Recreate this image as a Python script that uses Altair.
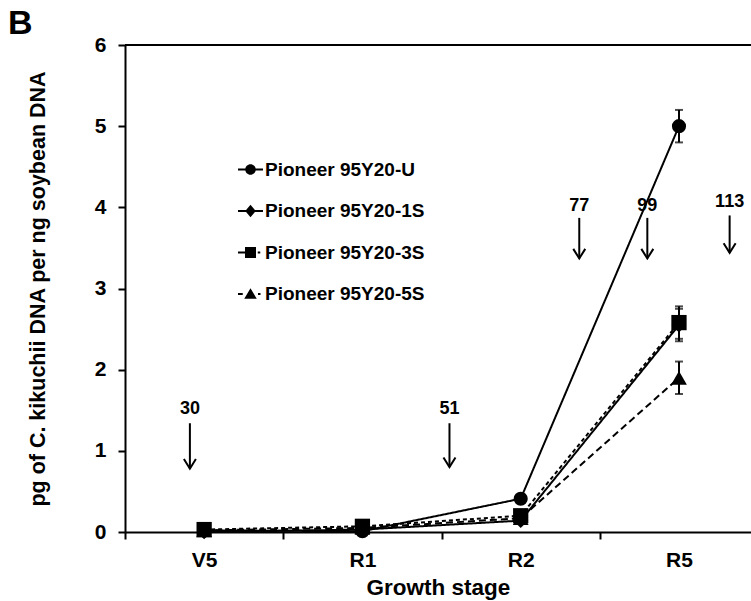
import json
import altair as alt
import pandas as pd

# ---------------- data ----------------
stages = ["V5", "R1", "R2", "R5"]
series_names = ["Pioneer 95Y20-U", "Pioneer 95Y20-1S", "Pioneer 95Y20-3S", "Pioneer 95Y20-5S"]

u_vals = [0.02, 0.01, 0.41, 5.00]
s1_vals = [0.00, 0.03, 0.14, 2.55]
s3_vals = [0.03, 0.07, 0.20, 2.58]
s5_vals = [0.02, 0.05, 0.17, 1.90]

u_err = [0.01, 0.02, 0.03, 0.20]
s1_err = [0.01, 0.02, 0.02, 0.20]
s3_err = [0.01, 0.02, 0.02, 0.20]
s5_err = [0.01, 0.02, 0.02, 0.20]

# days-after-planting annotations (arrows)
arrow_labels = ["30", "51", "77", "99", "113"]
arrow_x = [-0.09, 1.55, 2.37, 2.80, 3.32]
arrow_text_y = [1.51, 1.52, 4.02, 4.02, 4.06]
arrow_top = [1.34, 1.34, 3.87, 3.87, 3.90]
arrow_tip = [0.78, 0.80, 3.37, 3.37, 3.44]

FONT = "Liberation Sans"

# ---------------- tables ----------------
vals = [u_vals, s1_vals, s3_vals, s5_vals]
errs = [u_err, s1_err, s3_err, s5_err]
rows, err_rows, cap_rows = [], [], []
for name, v, e in zip(series_names, vals, errs):
    for i in range(len(stages)):
        rows.append({"x": i, "y": v[i], "series": name})
        err_rows.append({"x": i, "y": v[i] - e[i], "y2": v[i] + e[i], "series": name})
        cap_rows.append({"x": i, "y": v[i] - e[i], "series": name})
        cap_rows.append({"x": i, "y": v[i] + e[i], "series": name})
df = pd.DataFrame(rows)
err_df = pd.DataFrame(err_rows)
cap_df = pd.DataFrame(cap_rows)

arrows_df = pd.DataFrame({"x": arrow_x, "y": arrow_top, "y2": arrow_tip})
heads_df = pd.DataFrame({"x": arrow_x, "y": arrow_tip})
alabels_df = pd.DataFrame({"x": arrow_x, "y": arrow_text_y, "label": arrow_labels})
top_df = pd.DataFrame({"y": [6]})

# ---------------- encodings ----------------
label_expr = "datum.value % 1 === 0 ? " + json.dumps(stages) + "[datum.value] : ''"
xenc = alt.X(
    "x:Q",
    scale=alt.Scale(domain=[-0.5, 3.455], nice=False, zero=False),
    axis=alt.Axis(
        values=[-0.5, 0, 0.5, 1, 1.5, 2, 2.5, 3],
        labelExpr=label_expr,
        tickOpacity={"condition": {"test": "datum.value % 1 !== 0", "value": 1}, "value": 0},
        tickSize=7, tickWidth=2, tickColor="black",
        domainColor="black", domainWidth=2,
        labelFont=FONT, labelFontSize=21, labelFontWeight="bold", labelColor="black",
        labelPadding=10, labelOverlap=False, labelFlush=False,
        title="Growth stage", titleFont=FONT, titleFontSize=22.5, titleFontWeight="bold",
        titleColor="black", titlePadding=6, grid=False,
    ),
)
yenc = alt.Y(
    "y:Q",
    scale=alt.Scale(domain=[0, 6], nice=False, zero=True),
    axis=alt.Axis(
        values=[0, 1, 2, 3, 4, 5, 6],
        tickSize=7, tickWidth=2, tickColor="black",
        domainColor="black", domainWidth=2,
        labelFont=FONT, labelFontSize=21, labelFontWeight="bold", labelColor="black",
        labelPadding=12,
        title="pg  of C. kikuchii DNA per ng soybean DNA",
        titleFont=FONT, titleFontSize=21.5, titleFontWeight="bold", titleColor="black",
        titlePadding=45, grid=False,
    ),
)

shape_scale = alt.Scale(domain=series_names, range=["circle", "diamond", "square", "triangle-up"])
size_scale = alt.Scale(domain=series_names, range=[200, 250, 170, 210])
dash_scale = alt.Scale(domain=series_names, range=[[1, 0], [1, 0], [4, 3], [7, 4]])

# legend symbols: a short line (thin filled bar) with the marker on it
legend_paths = [
    "M-1,-0.08H1V0.08H-1ZM-0.42,0A0.42,0.42,0,1,1,0.42,0A0.42,0.42,0,1,1,-0.42,0Z",
    "M-1,-0.08H1V0.08H-1ZM0,-0.5L0.42,0L0,0.5L-0.42,0Z",
    "M-1,-0.08H-0.4V0.08H-1ZM-0.44,-0.44H0.44V0.44H-0.44ZM0.58,-0.08H0.78V0.08H0.58Z",
    "M-1,-0.08H-0.62V0.08H-1ZM0,-0.46L0.5,0.38H-0.5ZM0.6,-0.08H0.8V0.08H0.6Z",
]

# ---------------- layers ----------------
top_rule = alt.Chart(top_df).mark_rule(color="black", strokeWidth=2).encode(y=yenc)

lines = alt.Chart(df).mark_line(color="black", strokeWidth=2).encode(
    x=xenc, y=yenc,
    strokeDash=alt.StrokeDash("series:N", scale=dash_scale, legend=None),
    detail="series:N",
)

err_rules = alt.Chart(err_df).mark_rule(color="black", strokeWidth=2).encode(
    x=xenc, y=yenc, y2=alt.Y2("y2:Q")
)
err_caps = alt.Chart(cap_df).mark_tick(
    color="black", orient="horizontal", size=8, thickness=2
).encode(x=xenc, y=yenc)

points = alt.Chart(df).mark_point(filled=True, color="black", opacity=1).encode(
    x=xenc, y=yenc,
    shape=alt.Shape("series:N", scale=shape_scale, legend=None),
    size=alt.Size("series:N", scale=size_scale, legend=None),
)

legend_layer = alt.Chart(df).transform_filter("false").mark_point(
    filled=True, fill="black", stroke="black", strokeWidth=2, opacity=1
).encode(
    shape=alt.Shape(
        "series:N",
        scale=alt.Scale(domain=series_names, range=legend_paths),
        legend=alt.Legend(
            title=None, orient="none", legendX=113, legendY=112,
            symbolSize=625, symbolFillColor="black", symbolStrokeColor="black",
            symbolStrokeWidth=0, symbolOpacity=1,
            labelFont=FONT, labelFontSize=19, labelFontWeight="bold", labelColor="black",
            labelOffset=2, rowPadding=18.5, padding=0, labelLimit=400,
        ),
    )
)

arrow_rules = alt.Chart(arrows_df).mark_rule(color="black", strokeWidth=2).encode(
    x=xenc, y=yenc, y2=alt.Y2("y2:Q")
)
arrow_heads = alt.Chart(heads_df).mark_point(
    shape="M-1,-1.6L0,0L1,-1.6", filled=False, size=144, color="black",
    strokeWidth=2, opacity=1,
).encode(x=xenc, y=yenc)
arrow_text = alt.Chart(alabels_df).mark_text(
    font=FONT, fontSize=18, fontWeight="bold", color="black", baseline="middle"
).encode(x=xenc, y=yenc, text="label:N")

chart = (
    alt.layer(
        top_rule, lines, err_rules, err_caps, points, arrow_rules, arrow_heads,
        arrow_text, legend_layer,
    )
    .resolve_scale(shape="independent")
    .properties(
        width=626, height=487,
        padding={"left": 125, "top": 45, "right": 0, "bottom": 69},
        autosize=alt.AutoSizeParams(type="none"),
        title=alt.TitleParams(
            "B", anchor="start", frame="group", fontSize=34, fontWeight="bold",
            font=FONT, color="black", dx=-117, dy=34, offset=0, baseline="alphabetic",
        ),
    )
    .configure_view(stroke=None)
    .configure(background="white")
)

chart.save("out.html", embed_options={"renderer": "svg", "actions": False})
